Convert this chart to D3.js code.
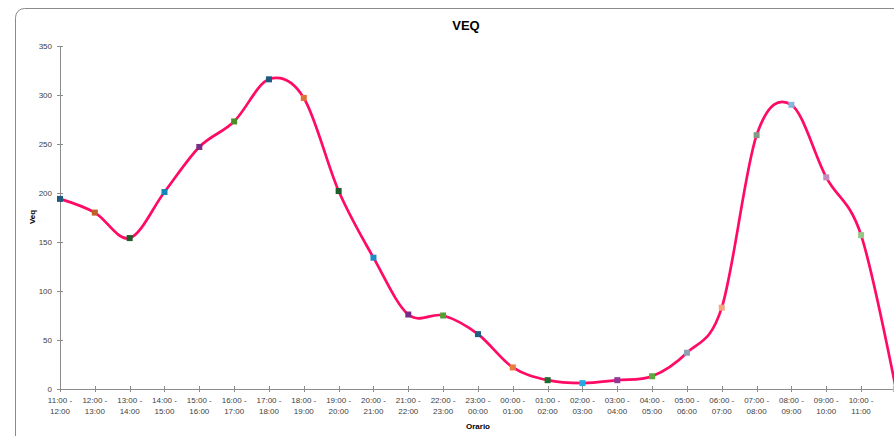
<!DOCTYPE html>
<html><head><meta charset="utf-8">
<script src="https://cdn.jsdelivr.net/npm/d3@7/dist/d3.min.js"></script>
<style>html,body{margin:0;padding:0;background:#fff;overflow:hidden}</style>
</head><body>
<svg id="c" width="894" height="436"></svg>
<script>
const categories = ["11:00 - 12:00","12:00 - 13:00","13:00 - 14:00","14:00 - 15:00","15:00 - 16:00","16:00 - 17:00","17:00 - 18:00","18:00 - 19:00","19:00 - 20:00","20:00 - 21:00","21:00 - 22:00","22:00 - 23:00","23:00 - 00:00","00:00 - 01:00","01:00 - 02:00","02:00 - 03:00","03:00 - 04:00","04:00 - 05:00","05:00 - 06:00","06:00 - 07:00","07:00 - 08:00","08:00 - 09:00","09:00 - 10:00","10:00 - 11:00","11:00 - 12:00 "];
const veq = [194,180,154,201,247,273,316,297,202,134,76,75,56,22,9,6,9,13,37,83,259,290,216,157,0];
const markerColors = ["#1F5A7C","#C0612B","#1E5C2A","#1486B9","#7B2C84","#4E8C2A","#1E5A80","#E07035","#1C5E2A","#1C8CC2","#7B2A84","#53A039","#1F5C86","#EB7A3D","#1E6B2E","#26A8E0","#8E3A99","#5BAA3C","#8FA2B5","#F4A583","#869A83","#85B6DE","#C28DBE","#99C587","#E8A8A0"];
const yTicks = [0,50,100,150,200,250,300,350];
const title = "VEQ", yTitle = "Veq", xTitle = "Orario";

const svg = d3.select("#c");
const font = "'Liberation Sans', Arial, sans-serif";
const axisColor = "#8c8c8c", textColor = "#404040";

// chart border (extends beyond the window)
svg.append("rect").attr("x",15.5).attr("y",8.5).attr("width",1000).attr("height",500)
  .attr("rx",9).attr("fill","#fff").attr("stroke","#8a8a8a").attr("stroke-width",1);

const x = d3.scalePoint().domain(d3.range(categories.length)).range([60, 60 + 34.83*(categories.length-1)]);
const y = d3.scaleLinear().domain([0,350]).range([389,46]);

// y axis
svg.append("line").attr("x1",60.5).attr("x2",60.5).attr("y1",y(350)).attr("y2",y(0)).attr("stroke",axisColor);
svg.selectAll(".yt").data(yTicks).enter().append("line")
  .attr("x1",57).attr("x2",63).attr("y1",d=>Math.round(y(d))+0.5).attr("y2",d=>Math.round(y(d))+0.5).attr("stroke",axisColor);
svg.selectAll(".yl").data(yTicks).enter().append("text")
  .attr("x",52).attr("y",d=>y(d)+3).attr("text-anchor","end")
  .attr("font-family",font).attr("font-size",8).attr("fill",textColor).text(d=>d);

// x axis
svg.append("line").attr("x1",60).attr("x2",894).attr("y1",389.5).attr("y2",389.5).attr("stroke",axisColor);
svg.selectAll(".xt").data(d3.range(categories.length)).enter().append("line")
  .attr("x1",d=>Math.round(x(d))+0.5).attr("x2",d=>Math.round(x(d))+0.5).attr("y1",386).attr("y2",392).attr("stroke",axisColor);
// labels whose text would fall past the window edge are not drawn (as in the reference)
const visibleIdx = d3.range(categories.length).filter(i => x(i) + 13 <= 894);
const xl = svg.selectAll(".xl").data(visibleIdx).enter().append("text")
  .attr("text-anchor","middle").attr("font-family",font).attr("font-size",8).attr("fill",textColor);
xl.append("tspan").attr("x",i=>x(i)).attr("y",403).text(i=>categories[i].trim().split(" - ")[0]+" -");
xl.append("tspan").attr("x",i=>x(i)).attr("y",414).text(i=>categories[i].trim().split(" - ")[1]);

// line
const line = d3.line().x((d,i)=>x(i)).y(d=>y(d)).curve(d3.curveCardinal.tension(0));
svg.append("path").datum(veq).attr("d",line).attr("fill","none").attr("stroke","#FF0A64").attr("stroke-width",2.7)
  .attr("stroke-linejoin","round");

// markers
svg.selectAll(".m").data(veq).enter().append("rect")
  .attr("x",(d,i)=>x(i)-3).attr("y",d=>y(d)-3).attr("width",6).attr("height",6)
  .attr("fill",(d,i)=>markerColors[i]);

// titles
svg.append("text").attr("x",466).attr("y",30).attr("text-anchor","middle")
  .attr("font-family",font).attr("font-weight","bold").attr("font-size",13).attr("fill","#000").text(title);
svg.append("text").attr("transform","translate(35,217) rotate(-90)").attr("text-anchor","middle")
  .attr("font-family",font).attr("font-weight","bold").attr("font-size",8).attr("fill","#000").text(yTitle);
svg.append("text").attr("x",478).attr("y",429).attr("text-anchor","middle")
  .attr("font-family",font).attr("font-weight","bold").attr("font-size",8).attr("fill","#000").text(xTitle);
</script>
</body></html>
